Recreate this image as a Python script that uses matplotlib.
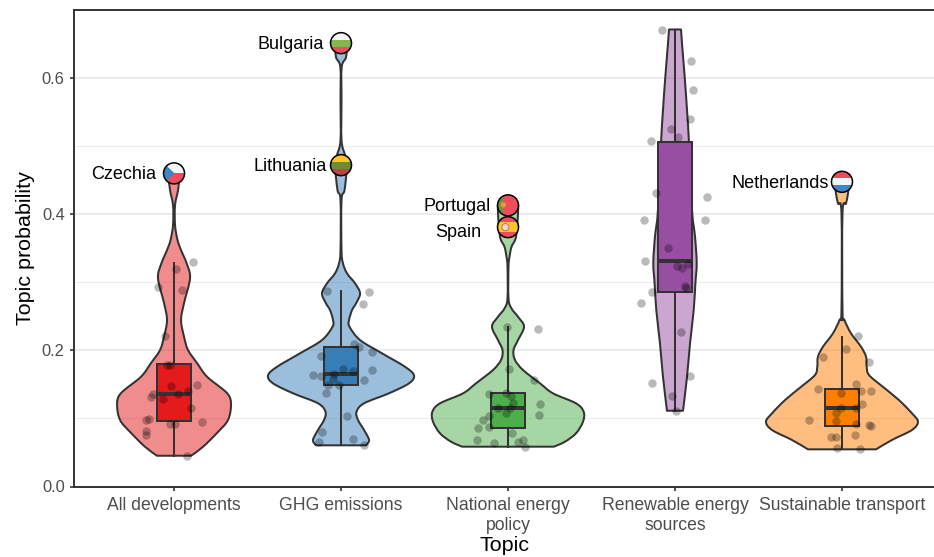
import matplotlib
matplotlib.use("Agg")
import matplotlib.pyplot as plt
from matplotlib.path import Path
from matplotlib.patches import PathPatch, Circle, Rectangle, Polygon
from matplotlib.transforms import Affine2D

plt.rcParams['font.family'] = ['Liberation Sans', 'DejaVu Sans']

topics = ["All developments", "GHG emissions", "National energy\npolicy", "Renewable energy\nsources", "Sustainable transport"]
colors = ["#E41A1C", "#377EB8", "#4DAF4A", "#984EA3", "#FF7F00"]

# violin outlines: height, half width
violin_y = [
    [.0452, .0584, .0786, .0976, .1211, .1373, .1612, .1813, .2004, .22, .2445, .2695, .3062, .3282, .3473, .362, .384, .413, .4354, .46],
    [.0605, .0683, .083, .0976, .1098, .1222, .1369, .1515, .1633, .1759, .1956, .2151, .2347, .2445, .2592, .269, .2837, .2984, .3131, .3278, .3473, .4207, .4354, .4721, .4868, .5088, .5675, .616, .6307, .6513],
    [.0585, .0658, .0781, .0952, .1098, .1222, .1369, .1515, .1711, .1858, .2004, .2151, .2347, .2493, .2616, .2764, .3228, .3374, .3521, .3668, .4012, .415],
    [.1113, .1612, .2103, .2592, .2984, .3278, .3668, .406, .504, .5529, .6017, .6508, .6714],
    [.0546, .0683, .083, .0952, .1075, .127, .1466, .1637, .1759, .1906, .2053, .225, .2445, .2592, .4012, .4159, .4305, .4476],
]
violin_w = [
    [.102, .174, .257, .323, .341, .317, .198, .138, .084, .06, .042, .06, .096, .075, .042, .021, .006, .006, .024, .036],
    [.150, .168, .138, .102, .093, .138, .287, .407, .437, .383, .246, .114, .051, .048, .066, .09, .114, .084, .036, .012, .003, .003, .021, .036, .024, .003, .003, .004, .03, .036],
    [.275, .341, .407, .449, .453, .407, .269, .192, .09, .042, .033, .06, .096, .06, .021, .003, .003, .009, .021, .048, .06, .06],
    [.048, .072, .09, .112, .122, .13, .12, .102, .084, .072, .058, .042, .036],
    [.204, .299, .419, .455, .419, .341, .244, .162, .148, .144, .114, .054, .015, .003, .003, .024, .036, .045],
]

box_low = [.045, .0605, .0585, .111, .0546]
box_q1 = [.0967, .149, .086, .2856, .0893]
box_med = [.1358, .166, .1153, .3316, .1153]
box_q3 = [.1794, .2053, .1368, .5064, .1432]
box_high = [.3287, .2876, .2347, .671, .22]

# jittered points: offset from the category, value
jit_x = [
    [.116, .012, -.094, .048, -.052, -.042, -.026, .136, -.02, .086, -.126, -.138, .024, -.064, .10, -.17, -.152, .168, -.022, .006, -.166, -.168, .08],
    [.168, .132, -.086, .08, .108, .186, -.12, .184, .01, .07, -.042, -.17, -.122, -.048, .138, -.076, -.012, -.088, .038, -.116, .07, -.13, .136],
    [.178, -.006, .006, .154, -.116, -.01, .02, .19, .03, -.06, .014, -.014, .184, -.116, -.152, -.114, -.182, .024, -.186, .092, .062, -.084, .104],
    [-.076, .094, .108, .09, -.022, .016, -.146, -.114, .194, -.184, .18, -.044, -.18, .078, .012, .042, .06, .064, -.138, -.202, .038, .088, -.14, -.016, .004],
    [.098, .024, -.112, .162, .082, -.144, -.006, .116, .176, .122, -.006, .086, -.198, -.036, -.036, .082, .162, .172, .08, -.064, -.038, -.03, .11],
]
jit_y = [
    [.33, .319, .293, .288, .2205, .178, .179, .149, .148, .14, .136, .131, .136, .1285, .1157, .097, .099, .095, .092, .092, .081, .076, .045],
    [.286, .2675, .2875, .209, .205, .1975, .192, .1706, .172, .17, .1656, .1637, .162, .1575, .156, .149, .1495, .137, .1035, .0805, .07, .066, .0605],
    [.231, .2347, .172, .156, .136, .137, .133, .1207, .122, .115, .115, .108, .1045, .103, .097, .0874, .0864, .078, .068, .069, .066, .064, .058],
    [.671, .625, .583, .5396, .525, .5137, .507, .4315, .425, .392, .391, .35, .3316, .327, .324, .321, .2944, .291, .286, .2695, .2273, .162, .152, .133, .111],
    [.221, .2015, .1897, .183, .1505, .1436, .138, .1407, .1407, .1207, .1157, .1148, .0977, .1075, .0966, .0918, .0898, .0888, .0756, .0722, .0722, .0565, .0546],
]

flag_names = ["Czechia", "Bulgaria", "Lithuania", "Portugal", "Spain", "Netherlands"]
flag_topic = [1, 2, 2, 3, 3, 5]
flag_vals = [.46, .6513, .4721, .413, .381, .4476]
# label offsets in points
flag_dx = [-13, -12.5, -10.3, -12.5, -19.5, -9.5]
flag_dy = [-1, -1, -.7, -.5, -3.5, -1.3]
# top to bottom stripes
flag_stripes = {
    "Czechia": ["#F5F5F5", "#EE4B5E"],
    "Bulgaria": ["#F5F5F5", "#82B74B", "#EE4B5E"],
    "Lithuania": ["#FCC52E", "#6A8F32", "#BF4545"],
    "Netherlands": ["#EE4B5E", "#F5F5F5", "#3F86C6"],
    "Spain": ["#EE4B5E", "#FCC52E", "#FCC52E", "#EE4B5E"],
    "Portugal": ["#EE4B5E"],
}


def smooth_side(xs, ys):
    # catmull-rom segments through the read points
    verts, codes = [], []
    n = len(xs)
    for i in range(n - 1):
        x0, y0 = xs[max(i - 1, 0)], ys[max(i - 1, 0)]
        x1, y1 = xs[i], ys[i]
        x2, y2 = xs[i + 1], ys[i + 1]
        x3, y3 = xs[min(i + 2, n - 1)], ys[min(i + 2, n - 1)]
        verts += [(x1 + (x2 - x0) / 6, y1 + (y2 - y0) / 6),
                  (x2 - (x3 - x1) / 6, y2 - (y3 - y1) / 6),
                  (x2, y2)]
        codes += [Path.CURVE4] * 3
    return verts, codes


fig = plt.figure(figsize=(9.34, 5.57), dpi=100)
ax = fig.add_axes([74 / 934, 1 - 486.5 / 557, 860 / 934, 476.5 / 557])
ax.set_xlim(.401, 5.551)
ax.set_ylim(0, .7)

ax.set_yticks([0, .2, .4, .6])
ax.set_yticklabels(["0.0", "0.2", "0.4", "0.6"])
ax.set_yticks([.1, .3, .5], minor=True)
ax.grid(axis='y', which='major', color='#EBEBEB', lw=1.3)
ax.grid(axis='y', which='minor', color='#EBEBEB', lw=.7)
ax.set_axisbelow(True)
ax.tick_params(axis='y', which='minor', length=0)
ax.tick_params(axis='both', which='major', length=3.2, width=1.2, color='#333333', labelcolor='#4D4D4D')
ax.tick_params(axis='y', labelsize=11.8)
ax.tick_params(axis='x', labelsize=12.7, pad=4.5)
ax.set_xticks(range(1, 6))
ax.set_xticklabels(topics, linespacing=1.2)
ax.set_ylabel("Topic probability", fontsize=15.4, labelpad=5)
ax.set_xlabel("Topic", fontsize=15.4, labelpad=1.5)
ax.spines['right'].set_visible(False)
for s in ['left', 'top', 'bottom']:
    ax.spines[s].set_color('#333333')
    ax.spines[s].set_linewidth(1.4)

for i in range(5):
    pos = i + 1
    right = [pos + w for w in violin_w[i]]
    left = [pos - w for w in violin_w[i]][::-1]
    ys = violin_y[i]
    verts = [(right[0], ys[0])]
    codes = [Path.MOVETO]
    v, c = smooth_side(right, ys)
    verts += v
    codes += c
    verts.append((left[0], ys[-1]))
    codes.append(Path.LINETO)
    v, c = smooth_side(left, ys[::-1])
    verts += v
    codes += c
    verts.append((right[0], ys[0]))
    codes.append(Path.CLOSEPOLY)
    path = Path(verts, codes)
    ax.add_patch(PathPatch(path, facecolor=colors[i], alpha=.5, edgecolor='none', zorder=2))
    ax.add_patch(PathPatch(path, facecolor='none', edgecolor='#333333', lw=1.45, zorder=2.1, joinstyle='round'))

    ax.plot([pos, pos], [box_low[i], box_q1[i]], color='#333333', lw=1.45, zorder=2.2)
    ax.plot([pos, pos], [box_q3[i], box_high[i]], color='#333333', lw=1.45, zorder=2.2)
    ax.add_patch(Rectangle((pos - .1, box_q1[i]), .2, box_q3[i] - box_q1[i], facecolor=colors[i],
                           edgecolor='#333333', lw=1.45, zorder=2.3))
    ax.plot([pos - .1, pos + .1], [box_med[i], box_med[i]], color='#333333', lw=2.9, zorder=2.4, solid_capstyle='butt')

    ax.scatter([pos + d for d in jit_x[i]], jit_y[i], s=37, color='black', alpha=.27, linewidths=0, zorder=3)

# flags are drawn in pixels so they stay round
radius = 10.5
for name, t, val, dx, dy in zip(flag_names, flag_topic, flag_vals, flag_dx, flag_dy):
    cx, cy = ax.transData.transform((t, val))
    tr = Affine2D().scale(radius).translate(cx, cy)
    clip = Circle((0, 0), 1, transform=tr)
    stripes = flag_stripes[name]
    h = 2 / len(stripes)
    for k, col in enumerate(stripes):
        r = Rectangle((-1, 1 - (k + 1) * h), 2, h, facecolor=col, edgecolor='none', transform=tr, zorder=5)
        ax.add_patch(r)
        r.set_clip_path(clip)
    if name == "Czechia":
        p = Polygon([(-1, 1), (.05, 0), (-1, -1)], facecolor="#3F86C6", edgecolor='none', transform=tr, zorder=5.1)
        ax.add_patch(p)
        p.set_clip_path(clip)
    if name == "Portugal":
        p = Rectangle((-1, -1), .5, 2, facecolor="#5E9B3C", edgecolor='none', transform=tr, zorder=5.1)
        ax.add_patch(p)
        p.set_clip_path(clip)
        ax.add_patch(Circle((-.45, .05), .3, facecolor="#D9A03A", edgecolor='#C9643C', lw=.6, transform=tr, zorder=5.2))
    if name == "Spain":
        ax.add_patch(Circle((-.25, 0), .34, facecolor="#F3D9D0", edgecolor='#D9585A', lw=.6, transform=tr, zorder=5.2))
    ax.add_patch(Circle((0, 0), 1, facecolor='none', edgecolor='black', lw=1.1, transform=tr, zorder=6))
    ax.annotate(name, (t, val), xytext=(dx, dy), textcoords='offset points', ha='right', va='center',
                fontsize=13, color='black', zorder=7)

fig.savefig('out.png', dpi=100)
